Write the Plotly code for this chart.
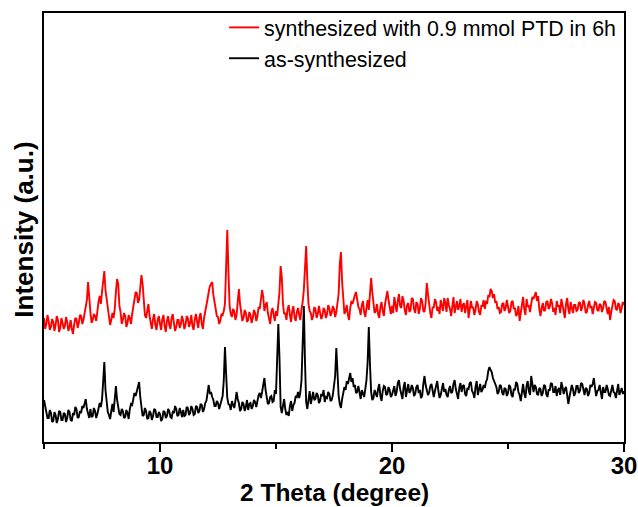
import numpy as np
import plotly.graph_objects as go

# 2-theta sampling grid (degrees), 5.00 .. 30.00 step 0.05
two_theta = np.round(np.arange(5.0, 30.0001, 0.05), 2)

# Intensities (a.u.), one row per degree (x.00 .. x.95)
ptd_6h = [
    124, 113, 118, 127, 121, 112, 115, 123, 120, 111, 117, 126, 122, 110, 114, 124, 119, 113, 116, 125,  # 5
    120, 111, 115, 122, 113, 108, 117, 124, 123, 114, 119, 127, 126, 118, 122, 129, 132, 142, 160, 141,  # 6
    130, 119, 122, 128, 126, 121, 132, 140, 146, 138, 150, 162, 171, 152, 142, 131, 125, 117, 122, 129,  # 7
    124, 133, 150, 163, 158, 136, 130, 118, 122, 129, 126, 115, 119, 127, 124, 118, 128, 137, 141, 150,  # 8
    149, 139, 142, 155, 167, 158, 140, 127, 124, 133, 138, 126, 119, 113, 123, 128, 117, 112, 122, 126,  # 9
    118, 112, 123, 127, 116, 110, 121, 126, 117, 113, 124, 128, 119, 111, 115, 122, 122, 114, 118, 126,  # 10
    121, 113, 117, 126, 124, 115, 119, 127, 116, 112, 123, 128, 120, 114, 125, 129, 118, 113, 124, 130,  # 11
    134, 143, 150, 156, 158, 160, 147, 139, 132, 126, 125, 118, 121, 128, 127, 131, 138, 168, 212, 170,  # 12
    136, 128, 125, 133, 131, 122, 127, 140, 153, 138, 130, 121, 124, 132, 129, 120, 122, 130, 127, 119,  # 13
    124, 132, 129, 121, 126, 135, 133, 141, 152, 145, 131, 137, 140, 129, 124, 118, 130, 134, 127, 121,  # 14
    131, 126, 138, 150, 176, 165, 138, 128, 129, 122, 133, 137, 127, 120, 131, 136, 125, 121, 130, 134,  # 15
    127, 122, 133, 140, 152, 180, 196, 162, 138, 131, 129, 122, 126, 135, 133, 124, 128, 136, 131, 123,  # 16
    126, 134, 132, 124, 128, 137, 134, 126, 129, 136, 133, 125, 130, 138, 148, 178, 190, 160, 138, 128,  # 17
    131, 137, 127, 122, 134, 141, 138, 144, 147, 150, 142, 135, 133, 127, 137, 141, 130, 125, 134, 142,  # 18
    132, 145, 164, 150, 138, 129, 131, 138, 128, 124, 135, 140, 131, 126, 138, 144, 151, 142, 134, 128,  # 19
    136, 129, 145, 138, 130, 141, 148, 136, 134, 146, 141, 132, 127, 137, 139, 130, 132, 144, 143, 133,  # 20
    129, 140, 138, 128, 133, 144, 141, 131, 130, 139, 159, 148, 137, 129, 124, 135, 134, 143, 140, 131,  # 21
    135, 128, 142, 137, 131, 144, 139, 130, 144, 137, 133, 126, 138, 145, 129, 135, 141, 132, 136, 143,  # 22
    130, 137, 139, 129, 134, 142, 124, 131, 141, 134, 135, 127, 132, 141, 138, 130, 127, 136, 136, 142,  # 23
    133, 141, 138, 147, 145, 153, 151, 144, 148, 139, 141, 133, 135, 129, 130, 138, 139, 131, 134, 142,  # 24
    137, 129, 131, 140, 141, 133, 134, 126, 128, 136, 121, 130, 139, 145, 133, 127, 143, 136, 136, 130,  # 25
    138, 145, 143, 148, 150, 141, 146, 133, 126, 134, 139, 131, 132, 140, 141, 133, 135, 143, 139, 130,  # 26
    134, 127, 141, 136, 136, 129, 143, 137, 131, 124, 138, 144, 133, 128, 140, 134, 129, 137, 137, 131,  # 27
    132, 139, 140, 131, 135, 142, 138, 129, 130, 137, 141, 134, 136, 128, 133, 140, 139, 132, 131, 138,  # 28
    137, 130, 134, 141, 140, 132, 128, 135, 122, 130, 135, 142, 141, 133, 132, 139, 137, 129, 134, 140,  # 29
    137,                                                                                                # 30
]

as_synthesized = [
    42, 35, 31, 24, 24, 32, 29, 20, 21, 30, 27, 19, 23, 31, 30, 22, 22, 29, 28, 20,   # 5
    24, 32, 30, 22, 21, 29, 27, 35, 33, 24, 25, 31, 29, 36, 34, 38, 43, 33, 28, 24,   # 6
    33, 25, 26, 34, 31, 24, 28, 36, 39, 35, 42, 60, 80, 52, 38, 30, 27, 23, 31, 38,   # 7
    30, 44, 56, 42, 36, 28, 27, 33, 31, 24, 25, 32, 29, 23, 33, 38, 37, 42, 49, 46,   # 8
    50, 54, 60, 45, 33, 26, 27, 34, 31, 23, 24, 31, 29, 22, 26, 33, 32, 25, 25, 30,   # 9
    28, 21, 23, 31, 30, 24, 26, 33, 31, 25, 24, 30, 29, 36, 33, 26, 27, 34, 30, 25,   # 10
    32, 26, 27, 35, 34, 27, 29, 36, 33, 27, 28, 36, 35, 29, 31, 38, 37, 30, 33, 39,   # 11
    41, 49, 57, 48, 50, 45, 42, 36, 36, 41, 39, 33, 37, 42, 46, 62, 95, 68, 44, 38,   # 12
    37, 32, 41, 37, 34, 41, 50, 43, 39, 31, 33, 40, 38, 31, 35, 42, 32, 38, 39, 33,   # 13
    36, 42, 40, 35, 43, 47, 49, 44, 50, 57, 64, 52, 44, 38, 39, 45, 46, 40, 41, 52,   # 14
    48, 78, 118, 84, 35, 29, 38, 43, 33, 27, 30, 26, 36, 41, 31, 37, 39, 46, 45, 50,  # 15
    44, 50, 62, 98, 136, 80, 40, 33, 45, 51, 38, 44, 50, 42, 43, 49, 47, 39, 41, 48,  # 16
    46, 52, 40, 45, 44, 50, 48, 41, 42, 47, 55, 66, 94, 70, 46, 38, 34, 43, 48, 55,   # 17
    52, 61, 58, 66, 69, 60, 64, 55, 57, 49, 50, 56, 47, 43, 52, 48, 45, 53, 62, 80,   # 18
    115, 78, 50, 42, 44, 52, 49, 45, 53, 58, 46, 41, 51, 56, 55, 47, 48, 55, 52, 45,  # 19
    47, 53, 56, 46, 50, 59, 62, 53, 49, 43, 55, 60, 45, 51, 58, 49, 51, 57, 54, 46,   # 20
    48, 55, 57, 49, 52, 44, 46, 58, 66, 57, 53, 47, 49, 56, 58, 50, 45, 51, 55, 61,   # 21
    51, 44, 47, 55, 59, 50, 53, 47, 45, 52, 56, 49, 50, 58, 62, 53, 48, 43, 54, 59,   # 22
    50, 56, 57, 48, 46, 54, 53, 59, 60, 51, 49, 44, 55, 61, 47, 52, 58, 50, 52, 57,   # 23
    54, 60, 63, 71, 75, 72, 70, 64, 61, 56, 55, 48, 50, 57, 56, 49, 47, 54, 53, 46,   # 24
    49, 57, 55, 47, 45, 53, 52, 60, 58, 50, 47, 41, 53, 58, 49, 44, 56, 61, 51, 47,   # 25
    66, 55, 50, 57, 55, 48, 47, 54, 53, 46, 49, 57, 56, 48, 45, 52, 52, 59, 58, 50,   # 26
    50, 56, 46, 52, 54, 47, 60, 55, 48, 53, 55, 47, 38, 45, 51, 57, 53, 46, 49, 56,   # 27
    56, 49, 51, 59, 58, 50, 47, 54, 53, 46, 49, 57, 55, 58, 64, 54, 46, 51, 52, 57,   # 28
    48, 43, 55, 50, 50, 57, 53, 47, 46, 52, 57, 50, 49, 44, 52, 58, 47, 52, 54, 48,   # 29
    51,                                                                               # 30
]

series_names = ["synthesized with 0.9 mmol PTD in 6h", "as-synthesized"]
series_colors = ["#ff0000", "#000000"]
x_ticks = [10, 20, 30]

FONT = "Arial, 'Liberation Sans', sans-serif"

fig = go.Figure()
for name, ys, col in zip(series_names, [ptd_6h, as_synthesized], series_colors):
    fig.add_trace(go.Scatter(x=two_theta, y=ys, mode="lines", name=name,
                             line=dict(color=col, width=1.9)))

fig.update_layout(
    width=638, height=507,
    margin=dict(l=44, r=14, t=13, b=65, autoexpand=False),
    paper_bgcolor="white", plot_bgcolor="white",
    font=dict(family=FONT, color="black"),
    showlegend=True,
    legend=dict(x=0.3105, y=1 - 7 / 507, xanchor="left", yanchor="top", yref="container",
                bgcolor="rgba(0,0,0,0)", borderwidth=0,
                font=dict(size=21.4, family=FONT, color="black"),
                tracegroupgap=0),
    annotations=[
        dict(text="<b>2 Theta (degree)</b>", xref="paper", yref="paper",
             x=0.5, y=-50 / 429, xanchor="center", yanchor="middle", showarrow=False,
             font=dict(size=24.5, family=FONT, color="black")),
        dict(text="<b>Intensity (a.u.)</b>", xref="paper", yref="paper",
             x=-20 / 580, y=0.495, xanchor="center", yanchor="middle", showarrow=False,
             textangle=-90, font=dict(size=26, family=FONT, color="black")),
    ],
)
fig.update_xaxes(
    range=[5, 30], tickvals=x_ticks, ticktext=[str(t) for t in x_ticks],
    ticks="outside", ticklen=8, tickwidth=2, tickcolor="black",
    minor=dict(tickvals=[5, 15, 25], ticks="outside", ticklen=5, tickwidth=2, tickcolor="black"),
    showline=True, linewidth=2, linecolor="black", mirror=True,
    showgrid=False, zeroline=False, automargin=False, ticklabelstandoff=-7,
    tickfont=dict(size=24, family=FONT, color="black", weight="bold"),
)
fig.update_yaxes(
    range=[0, 429], showticklabels=False, ticks="",
    showline=True, linewidth=2, linecolor="black", mirror=True,
    showgrid=False, zeroline=False, automargin=False,
)

fig.write_html("out.html")
